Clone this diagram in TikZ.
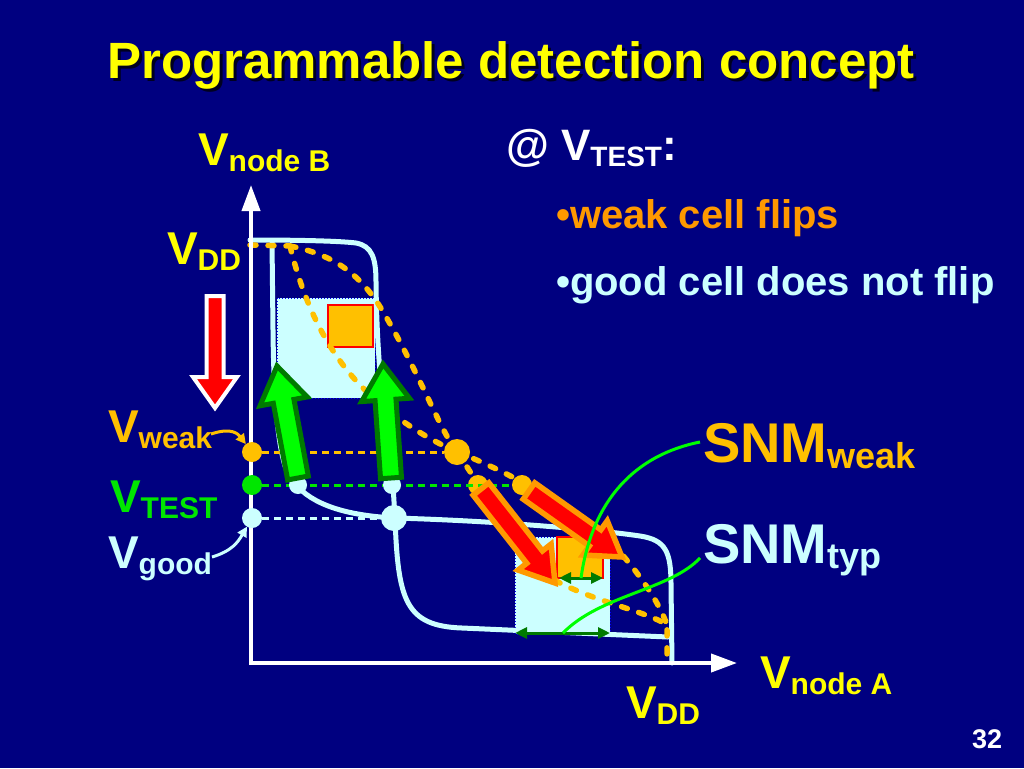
\documentclass[tikz,border=0pt]{standalone}
\usepackage{fontspec}
\setmainfont{Liberation Sans}
\usetikzlibrary{calc,arrows.meta}
\definecolor{bg}{HTML}{000080}
\definecolor{cy}{HTML}{CCFFFF}
\definecolor{og}{HTML}{FFC000}
\definecolor{orng}{HTML}{FF9900}
\definecolor{yel}{HTML}{FFFF00}
\definecolor{lgreen}{HTML}{00FF00}
\definecolor{dgreen}{HTML}{007A00}
\definecolor{tgreen}{HTML}{00E600}
\definecolor{sqblue}{HTML}{0000FF}
\definecolor{shadowc}{HTML}{000020}
\newcommand\blockarrow[6]{%
  \coordinate (ba) at (#1);
  \coordinate (bt) at (#2);
  \coordinate (bn) at ($(bt)!#5!(ba)$);
  \draw[#6] ($(ba)!#3!90:(bt)$) -- ($(bn)!#3!-90:(ba)$) -- ($(bn)!#4!-90:(ba)$) -- (bt) -- ($(bn)!#4!90:(ba)$) -- ($(bn)!#3!90:(ba)$) -- ($(ba)!#3!-90:(bt)$) -- cycle;
}
\newcommand\Vlab[1]{{\fontsize{46}{46}\selectfont V}\raisebox{-6pt}{\fontsize{30}{30}\selectfont #1}}
\newcommand\shadowed[1]{\makebox[0pt][l]{\hspace{3pt}\raisebox{-3pt}{\color{shadowc}#1}}#1}
\begin{document}
\begin{tikzpicture}[x=1pt,y=-1pt,
  lab/.style={inner sep=0pt, outer sep=0pt, anchor=base west, font=\bfseries},
  cycurve/.style={draw=cy, line width=5pt, line join=round, line cap=round},
  wdash/.style={draw=og, line width=5.5pt, line cap=round, dash pattern=on 6pt off 12pt},
  hdash/.style={line width=3pt, dash pattern=on 7pt off 5pt},
  dotn/.style={circle, inner sep=0pt, outer sep=0pt, minimum size=#1},
  dotn/.default=20pt,
  garrow/.style={fill=lgreen, draw=dgreen, line width=5pt, line join=miter},
  rarrow/.style={fill=red, draw=orng, line width=5.5pt, line join=miter},
  warrow/.style={fill=red, draw=white, line width=4pt, line join=miter},
  cysq/.style={fill=cy, draw=sqblue, line width=1pt, dotted},
  ogsq/.style={fill=og, draw=red, line width=1.5pt},
  axis/.style={draw=white, line width=4pt, -{Triangle[length=26pt,width=18pt]}},
  snmline/.style={draw=lgreen, line width=3pt},
  dblarr/.style={draw=dgreen, line width=3pt, {Triangle[length=12pt,width=11pt]}-{Triangle[length=12pt,width=11pt]}}
]
\useasboundingbox (0,0) rectangle (1024,768);
\fill[bg] (0,0) rectangle (1024,768);

% title
\node[lab, anchor=base, text=yel, font=\bfseries\fontsize{51}{51}\selectfont] (title) at (511,78) {\shadowed{Programmable detection concept}};

% squares
\draw[cysq] (277,298) rectangle (375,398);
\draw[cysq] (515,537) rectangle (610,634);
\draw[ogsq] (328,305) rectangle (373,347);
\draw[ogsq] (557,537) rectangle (603,578);

% typical butterfly curves
\draw[cycurve] (250,240) .. controls (300,240) and (340,241) .. (356,243) .. controls (372,246) and (376,258) .. (376,282) .. controls (377,380) and (388,445) .. (393,485) -- (395,518) .. controls (398,600) and (405,626) .. (462,628) -- (668,637);
\draw[cycurve] (272,242) -- (273,330) .. controls (274,430) and (282,478) .. (298,487) .. controls (318,508) and (355,516) .. (395,518) .. controls (500,521) and (600,530) .. (640,536) .. controls (666,540) and (671,552) .. (671,585) -- (672,663);

% weak butterfly curves
\draw[wdash] (250,245) -- (290,246);
\draw[wdash] (290,246) .. controls (302,295) and (322,345) .. (360,385) .. controls (395,420) and (430,440) .. (457,452);
\draw[wdash] (290,246) .. controls (335,255) and (362,275) .. (385,315) .. controls (420,375) and (440,430) .. (457,452);
\draw[wdash] (457,452) .. controls (490,500) and (525,565) .. (560,583) .. controls (600,603) and (648,612) .. (667,625) -- (667,663);
\draw[wdash] (457,452) .. controls (505,470) and (590,515) .. (625,558) .. controls (645,582) and (660,605) .. (667,625);

% axes
\coordinate (ytop) at (251,185);
\coordinate (xend) at (737,663);
\draw[axis] (251,665) -- (ytop);
\draw[axis] (249,663) -- (xend);

% dots
\node[dotn=20pt, fill=og] (dweak) at (252,452) {};
\node[dotn=20pt, fill=tgreen] (dtest) at (252,485) {};
\node[dotn=20pt, fill=cy] (dgood) at (252,518) {};
\node[dotn=26pt, fill=cy] (cbig) at (394,518) {};
\node[dotn=26pt, fill=og] (obig) at (457,452) {};
\node[dotn=20pt, fill=og] (o1) at (478,485) {};
\node[dotn=20pt, fill=og] (o2) at (522,485) {};

% horizontal dashed levels
\draw[hdash, og] (dweak) -- (obig);
\draw[hdash, tgreen] (dtest) -- (o2);
\draw[hdash, cy] (dgood) -- (cbig);

\node[dotn=18pt, fill=cy] (c1) at (298,485) {};
\node[dotn=18pt, fill=cy] (c2) at (392,485) {};

% block arrows
\blockarrow{298,478}{277,366}{10.5pt}{24pt}{36pt}{garrow}
\blockarrow{391,478}{383,364}{10.5pt}{24pt}{36pt}{garrow}
\blockarrow{481,489}{555,583}{10pt}{21pt}{33pt}{rarrow}
\blockarrow{529,491}{622,557}{10pt}{21pt}{33pt}{rarrow}
\blockarrow{215,296}{215,408}{8.5pt}{22pt}{31pt}{warrow}

% SNM arrows and pointers
\draw[dblarr] (559,578) -- (603,578);
\draw[dblarr] (515,633) -- (610,633);
\coordinate (gw) at (700,442);
\coordinate (gt) at (700,558);
\draw[snmline] (gw) .. controls (635,455) and (592,500) .. (581,578);
\draw[snmline] (gt) .. controls (670,590) and (600,595) .. (563,633);

% labels
\node[lab, text=yel] (vnodeb) at (198,165) {\Vlab{node B}};
\node[lab, text=yel] (vddtop) at (167,264) {\Vlab{DD}};
\node[lab, text=og] (vweak) at (108,442) {\Vlab{weak}};
\node[lab, text=tgreen] (vtest) at (110,512) {\Vlab{TEST}};
\node[lab, text=cy] (vgood) at (108,568) {\Vlab{good}};
\node[lab, text=yel] (vnodea) at (760,688) {\Vlab{node A}};
\node[lab, text=yel] (vddbot) at (626,718) {\Vlab{DD}};

\draw[og, line width=3pt, -{Triangle[length=10pt,width=10pt]}] (211,434) .. controls (232,427) and (238,434) .. (dweak);
\draw[cy, line width=3pt, -{Triangle[length=10pt,width=10pt]}] (212,557) .. controls (232,551) and (238,542) .. (dgood);

\node[lab, text=white] (attest) at (506,160) {{\fontsize{44}{44}\selectfont @ V}\raisebox{-6pt}{\fontsize{28}{28}\selectfont TEST}{\fontsize{44}{44}\selectfont :}};
\node[lab, text=orng, font=\bfseries\fontsize{40}{40}\selectfont] (weakflips) at (556,228) {•weak cell flips};
\node[lab, text=cy, font=\bfseries\fontsize{40}{40}\selectfont] (goodnot) at (556,295) {•good cell does not flip};

\node[lab, text=og] (snmweak) at (703,462) {{\fontsize{56}{56}\selectfont SNM}\raisebox{-6pt}{\fontsize{36}{36}\selectfont weak}};
\node[lab, text=cy] (snmtyp) at (703,563) {{\fontsize{56}{56}\selectfont SNM}\raisebox{-5pt}{\fontsize{36}{36}\selectfont typ}};

\node[lab, text=white, font=\bfseries\fontsize{27}{27}\selectfont] (pagenum) at (972,748) {32};
\end{tikzpicture}
\end{document}
